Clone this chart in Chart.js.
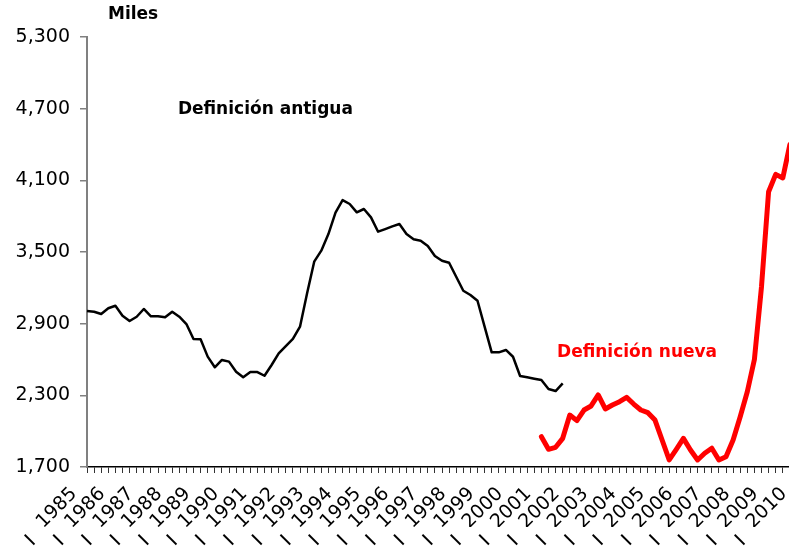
<!DOCTYPE html>
<html>
<head>
<meta charset="utf-8">
<script src="https://cdn.jsdelivr.net/npm/chart.js@4.4.0/dist/chart.umd.min.js"></script>
<style>
  html, body { margin: 0; padding: 0; background: #fff; overflow: hidden; }
  #wrap { width: 789px; height: 550px; overflow: hidden; }
</style>
</head>
<body>
<div id="wrap"><canvas id="chart" width="797" height="550"></canvas></div>
<script>
const years    = [1985, 1986, 1987, 1988, 1989, 1990, 1991, 1992, 1993, 1994, 1995, 1996, 1997,
                  1998, 1999, 2000, 2001, 2002, 2003, 2004, 2005, 2006, 2007, 2008, 2009, 2010];
const quarters = ["I", "II", "III", "IV"];

// Definición antigua: 1985-I .. 2001-IV
const oldDef = [
  3006, 3000, 2981, 3029, 3050, 2967, 2922, 2958, 3023, 2962, 2962, 2953,
  3000, 2958, 2897, 2772, 2769, 2624, 2535, 2596, 2582, 2498, 2451, 2495,
  2495, 2464, 2554, 2652, 2713, 2772, 2875, 3154, 3419, 3511, 3650, 3830,
  3935, 3902, 3832, 3860, 3790, 3670, 3692, 3715, 3734, 3651, 3606, 3595,
  3550, 3467, 3427, 3410, 3293, 3176, 3140, 3092, 2875, 2660, 2660, 2680,
  2623, 2462, 2451, 2439, 2428, 2353, 2336, 2400
];

// Definición nueva: 2001-I .. 2009-IV
const newDefStart = "2001 I";
const newDef = [
  1954, 1848, 1865, 1940, 2135, 2088, 2177, 2211, 2303, 2186, 2219, 2247,
  2283, 2227, 2177, 2155, 2093, 1926, 1759, 1848, 1940, 1842, 1759, 1815,
  1857, 1759, 1786, 1926, 2120, 2330, 2600, 3210, 4005, 4150, 4120, 4400
];

const yTicks = [1700, 2300, 2900, 3500, 4100, 4700, 5300];

// labels: every quarter up to 2010-I
const labels = [];
years.forEach(y => quarters.forEach(q => {
  if (y < 2010 || q === "I") labels.push(y + " " + q);
}));

const oldSeries = labels.map((_, i) => i < oldDef.length ? oldDef[i] : null);
const startIdx  = labels.indexOf(newDefStart);
const newSeries = labels.map((_, i) => {
  const k = i - startIdx;
  return k >= 0 && k < newDef.length ? newDef[k] : null;
});

const FONT = "'DejaVu Sans', sans-serif";

const notes = [
  { text: "Miles",              at: 2.96, val: 5488, color: "#000" },
  { text: "Definición antigua", at: 12.8, val: 4689, color: "#000" },
  { text: "Definición nueva",   at: 66.2, val: 2654, color: "#ff0000" }
];

const notePlugin = {
  id: "notes",
  afterDraw(chart) {
    const { ctx } = chart;
    const x = chart.scales.x, y = chart.scales.y;
    ctx.save();
    ctx.font = "bold 17px " + FONT;
    ctx.textAlign = "left";
    ctx.textBaseline = "middle";
    notes.forEach(n => {
      ctx.fillStyle = n.color;
      ctx.fillText(n.text, x.getPixelForValue(n.at), y.getPixelForValue(n.val));
    });
    ctx.restore();
  }
};

new Chart(document.getElementById("chart"), {
  type: "line",
  data: {
    labels,
    datasets: [
      {
        label: "Definición antigua",
        data: oldSeries,
        borderColor: "#000000",
        borderWidth: 2.5,
        pointRadius: 0,
        tension: 0,
        spanGaps: false,
        borderJoinStyle: "round",
        xAxisID: "x", yAxisID: "y"
      },
      {
        label: "Definición nueva",
        data: newSeries,
        borderColor: "#ff0000",
        borderWidth: 5,
        pointRadius: 0,
        tension: 0,
        spanGaps: false,
        borderJoinStyle: "round",
        borderCapStyle: "round",
        xAxisID: "x", yAxisID: "y"
      }
    ]
  },
  options: {
    responsive: false,
    animation: false,
    devicePixelRatio: 1,
    layout: { padding: { top: 37, right: 0, left: 0, bottom: 0 } },
    plugins: {
      legend: { display: false },
      tooltip: { enabled: false }
    },
    scales: {
      x: {
        type: "category",
        offset: false,
        grid: { display: true, drawOnChartArea: false, drawTicks: true, tickLength: 6, tickColor: "#333", lineWidth: 1 },
        border: { display: true, color: "#000", width: 1.5 },
        ticks: {
          autoSkip: false, minRotation: 45, maxRotation: 45,
          padding: 10, labelOffset: -13,
          color: "#000",
          font: { family: FONT, size: 19 },
          callback: (v, i) => i % 4 === 0 ? String(years[i / 4]) : ""
        },
        afterFit: s => { s.height = 60; s.paddingLeft = 0; s.paddingRight = 0; }
      },
      xq: {
        type: "category",
        position: "bottom",
        offset: false,
        grid: { display: false, drawTicks: false },
        border: { display: false },
        ticks: {
          autoSkip: false, minRotation: 45, maxRotation: 45,
          padding: 4, labelOffset: -54,
          color: "#000",
          font: { family: FONT, size: 19 },
          callback: (v, i) => i % 4 === 0 ? quarters[0] : ""
        },
        afterFit: s => { s.height = 23; s.paddingLeft = 0; s.paddingRight = 0; }
      },
      y: {
        min: yTicks[0],
        max: yTicks[yTicks.length - 1],
        afterBuildTicks: s => { s.ticks = yTicks.map(v => ({ value: v })); },
        grid: { display: true, drawOnChartArea: false, tickLength: 7, tickColor: "#808080", lineWidth: 1.5 },
        border: { display: true, color: "#808080", width: 2 },
        ticks: {
          padding: 10,
          color: "#000",
          font: { family: FONT, size: 19 },
          callback: v => v.toLocaleString("en-US")
        },
        afterFit: s => { s.width = 87; }
      }
    }
  },
  plugins: [notePlugin]
});
</script>
</body>
</html>
